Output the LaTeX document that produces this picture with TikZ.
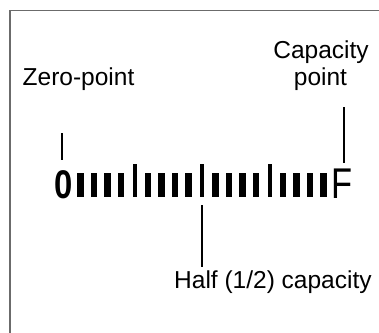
\documentclass[tikz,border=0pt]{standalone}
\usepackage{fontspec}
\setmainfont{Liberation Sans}
\begin{document}
\begin{tikzpicture}[x=1pt,y=-1pt,
  lbl/.style={inner sep=0pt, font=\fontsize{24.5}{27}\selectfont},
  frameline/.style={draw=black!58, line width=1.5pt},
  pointer/.style={draw=black, line width=1.3pt},
  shorttick/.style={fill=black},
  talltick/.style={fill=black}]
\useasboundingbox (0,0) rectangle (379,332);
% frame
\draw[frameline] (10,345) -- (10,10.5) -- (395,10.5);
% labels
\node[lbl, anchor=base west] (zerolbl) at (22.5,85) {Zero-point};
\node[lbl, anchor=base] (caplbl1) at (321,58) {Capacity};
\node[lbl, anchor=base] (caplbl2) at (320.5,85) {point};
\node[lbl, anchor=base west] (halflbl) at (174,288.5) {Half (1/2) capacity};
% scale ends
\node[inner sep=0pt, anchor=base, font=\bfseries\fontsize{40}{40}\selectfont] (zero) at (64,198) {\scalebox{0.82}[1]{0}};
\node[inner sep=0pt, anchor=base west, font=\fontsize{43}{43}\selectfont] (full) at (331,198) {\scalebox{0.8}[1]{F}};
% ticks
\foreach \i in {1,2,3,4,6,7,8,9,11,12,13,14,16,17,18,19}{
  \fill[shorttick] ({202+(\i-10)*13.5-3.4},173) rectangle ({202+(\i-10)*13.5+3.4},197);
}
\foreach \i in {5,10,15}{
  \fill[talltick] ({202+(\i-10)*13.5-2},164) rectangle ({202+(\i-10)*13.5+2},197);
}
% pointer lines
\coordinate (za) at (62,133);
\coordinate (zb) at (62,160);
\coordinate (ca) at (344,107);
\coordinate (cb) at (344,163);
\coordinate (ha) at (202,205);
\coordinate (hb) at (202,267);
\draw[pointer] (za) -- (zb);
\draw[pointer] (ca) -- (cb);
\draw[pointer] (ha) -- (hb);
\end{tikzpicture}
\end{document}
